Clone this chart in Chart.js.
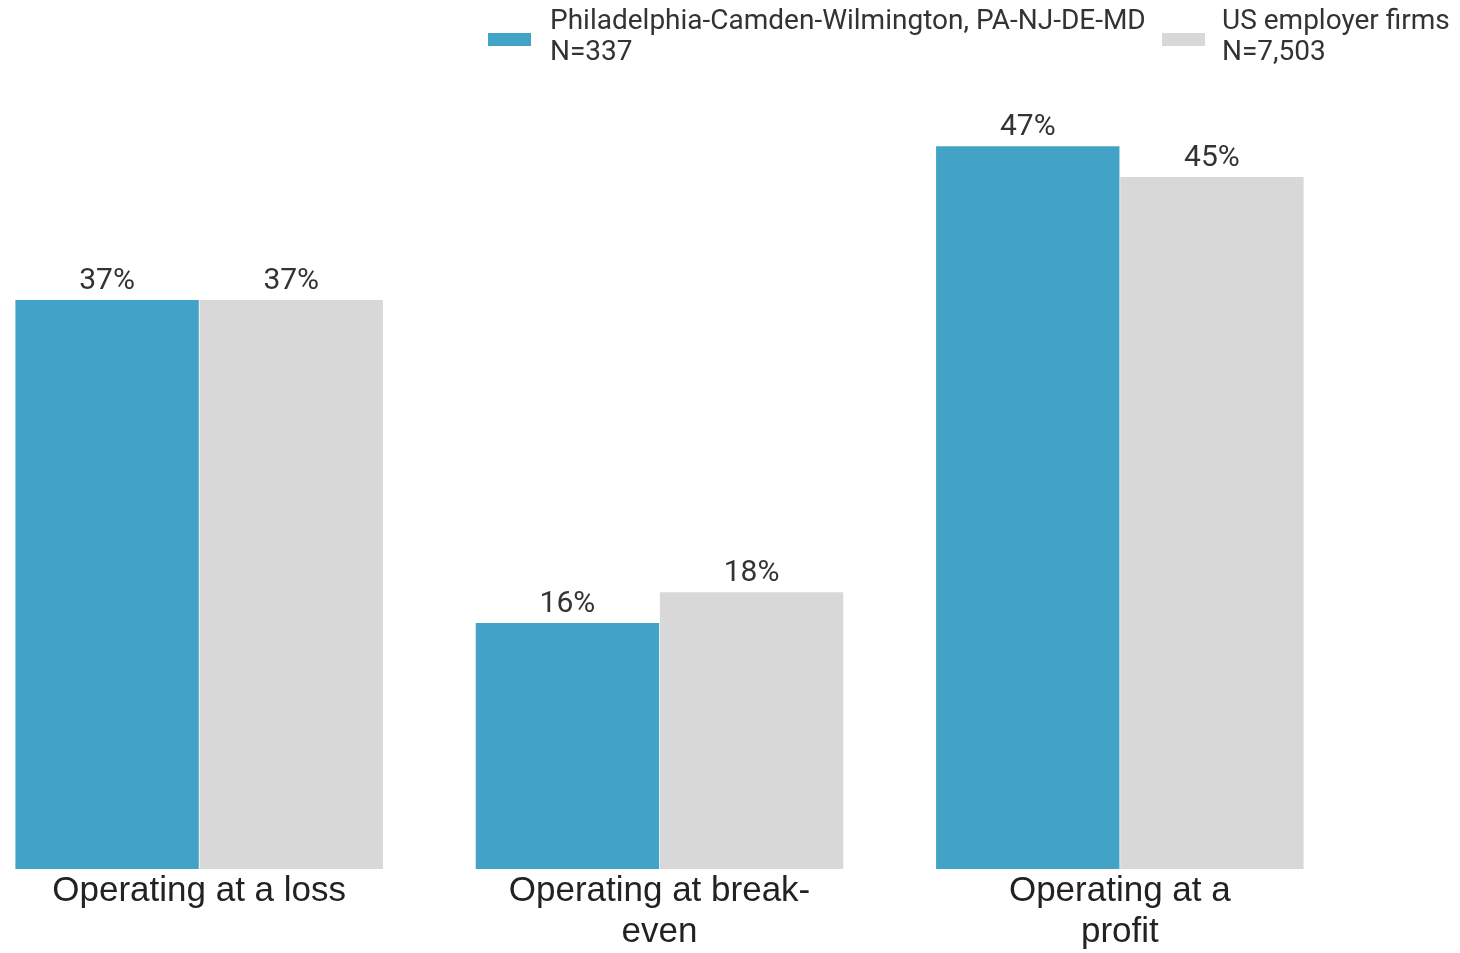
<!DOCTYPE html>
<html>
<head>
<meta charset="utf-8">
<script src="https://cdn.jsdelivr.net/npm/chart.js@4"></script>
<style>
  html, body { margin: 0; padding: 0; background: #fff; overflow: hidden; }
  body { width: 1460px; height: 953px; position: relative; }
  #wrap { position: absolute; left: -31px; top: 0; width: 1491px; height: 953px; }
  .legend-box { position: absolute; width: 43px; height: 13px; }
  .legend-text { position: absolute; font-family: Roboto, sans-serif; font-size: 28px; line-height: 31px; color: #333; white-space: nowrap; }
</style>
</head>
<body>
<div id="wrap"><canvas id="chart"></canvas></div>
<div id="legend"></div>
<script>
const categories = [
    'Operating at a loss',
    ['Operating at break-', 'even'],
    ['Operating at a', 'profit']
];
const seriesNames = [
    ['Philadelphia-Camden-Wilmington, PA-NJ-DE-MD', 'N=337'],
    ['US employer firms', 'N=7,503']
];
const metroValues = [37, 16, 47];
const usValues = [37, 18, 45];
const seriesColors = ['#43A3C7', '#D8D8D8'];

// value labels above each bar
const barLabels = {
    id: 'barLabels',
    afterDatasetsDraw(chart) {
        const ctx = chart.ctx;
        ctx.save();
        ctx.font = '30px Roboto, sans-serif';
        ctx.fillStyle = '#333';
        ctx.textAlign = 'center';
        ctx.textBaseline = 'alphabetic';
        chart.data.datasets.forEach((ds, i) => {
            chart.getDatasetMeta(i).data.forEach((bar, j) => {
                ctx.fillText(ds.data[j] + '%', bar.x, bar.y - 11);
            });
        });
        ctx.restore();
    }
};

const chart = new Chart(document.getElementById('chart'), {
    type: 'bar',
    data: {
        labels: categories,
        datasets: [
            { label: seriesNames[0], data: metroValues, backgroundColor: seriesColors[0] },
            { label: seriesNames[1], data: usValues, backgroundColor: seriesColors[1] }
        ]
    },
    options: {
        responsive: true,
        maintainAspectRatio: false,
        animation: false,
        layout: { padding: { left: 0, right: 110, top: 100, bottom: -2 } },
        datasets: { bar: { categoryPercentage: 0.8, barPercentage: 0.996, borderWidth: 0 } },
        scales: {
            y: { display: false, min: 0, max: 50 },
            x: {
                grid: { display: false, drawTicks: false },
                border: { display: false },
                ticks: {
                    padding: 2,
                    color: '#222',
                    font: { family: '"Liberation Sans", Arial, sans-serif', size: 35, lineHeight: '41px' },
                    maxRotation: 0,
                    autoSkip: false
                }
            }
        },
        plugins: {
            legend: { display: false },
            tooltip: { enabled: false }
        }
    },
    plugins: [barLabels]
});

// legend built from the dataset labels
const legendPos = [{ box: 488, text: 550 }, { box: 1162, text: 1222 }];
const legend = document.getElementById('legend');
chart.data.datasets.forEach((ds, i) => {
    const box = document.createElement('div');
    box.className = 'legend-box';
    box.style.left = legendPos[i].box + 'px';
    box.style.top = '33px';
    box.style.background = ds.backgroundColor;
    legend.appendChild(box);
    const txt = document.createElement('div');
    txt.className = 'legend-text';
    txt.style.left = legendPos[i].text + 'px';
    txt.style.top = '4px';
    txt.innerHTML = ds.label.join('<br>');
    legend.appendChild(txt);
});
</script>
</body>
</html>
